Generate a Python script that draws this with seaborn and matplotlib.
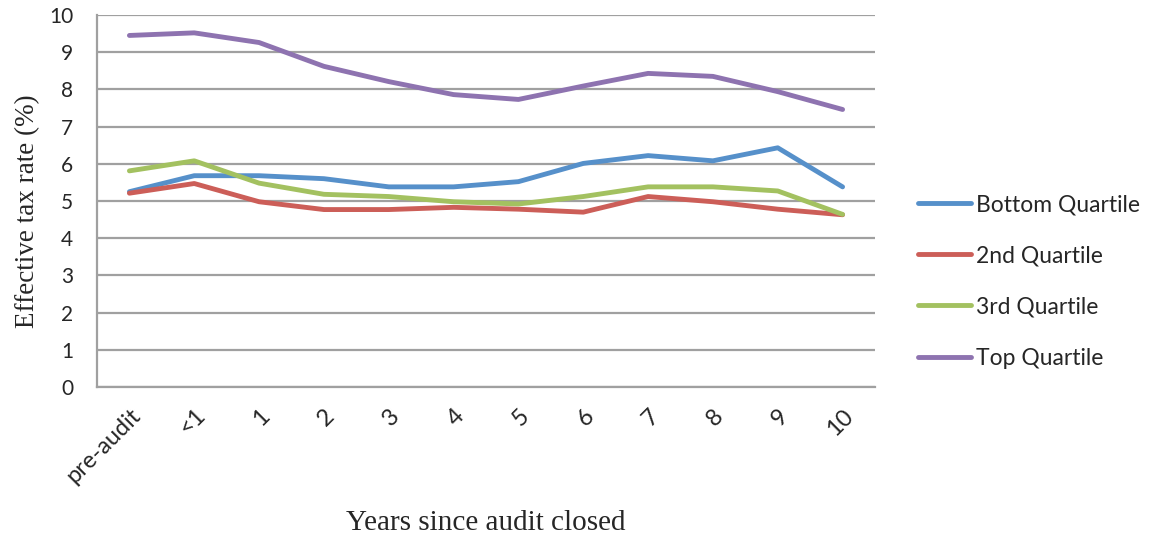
import matplotlib
matplotlib.use("Agg")
import matplotlib.pyplot as plt
import seaborn as sns
import pandas as pd

# Effective tax rate (%) by quartile, by years since the audit closed
years = ["pre-audit", "<1", "1", "2", "3", "4", "5", "6", "7", "8", "9", "10"]
bottom_quartile = [5.25, 5.68, 5.68, 5.60, 5.38, 5.38, 5.52, 6.01, 6.22, 6.08, 6.43, 5.38]
second_quartile = [5.21, 5.47, 4.98, 4.77, 4.77, 4.83, 4.78, 4.70, 5.12, 4.98, 4.78, 4.63]
third_quartile = [5.81, 6.08, 5.48, 5.18, 5.12, 4.98, 4.92, 5.12, 5.38, 5.38, 5.27, 4.64]
top_quartile = [9.45, 9.52, 9.26, 8.62, 8.21, 7.86, 7.73, 8.09, 8.43, 8.35, 7.94, 7.46]

series_names = ["Bottom Quartile", "2nd Quartile", "3rd Quartile", "Top Quartile"]
series_values = [bottom_quartile, second_quartile, third_quartile, top_quartile]
series_colors = ["#5690CA", "#CC5E58", "#A3C160", "#8E73B0"]

rows = []
for name, vals in zip(series_names, series_values):
    for i, (yr, v) in enumerate(zip(years, vals)):
        rows.append({"pos": i, "year": yr, "rate": v, "series": name})
df = pd.DataFrame(rows)

sns.set_style("white")
sans = ["Lato", "DejaVu Sans"]
serif = ["Liberation Serif", "DejaVu Serif"]

W, H = 1150, 539
fig = plt.figure(figsize=(W / 100, H / 100), dpi=100)
ax = fig.add_axes([97 / W, 1 - 387 / H, (875 - 97) / W, (387 - 15) / H])

line_w = 3.5
sns.lineplot(data=df, x="pos", y="rate", hue="series", hue_order=series_names,
             palette=series_colors, linewidth=line_w, ax=ax, legend=False,
             solid_capstyle="round", solid_joinstyle="round", zorder=3)

grid_color = "#A0A0A0"
ax.set_xlim(-0.5, len(years) - 0.5)
ax.set_ylim(0, 10)
ax.set_yticks(range(0, 11))
ax.yaxis.grid(True, color=grid_color, linewidth=1.6)
ax.set_axisbelow(True)
for side in ["top", "right"]:
    ax.spines[side].set_visible(False)
for side in ["left", "bottom"]:
    ax.spines[side].set_color(grid_color)
    ax.spines[side].set_linewidth(1.6)

ax.set_xticks(range(len(years)))
ax.set_xticklabels(years, rotation=45, ha="right", rotation_mode="anchor",
                   family=sans, fontsize=17)
ax.tick_params(axis="x", length=0, pad=13)
ax.tick_params(axis="y", length=5, width=1.6, color=grid_color, pad=12,
               labelsize=15)
for lbl in ax.get_yticklabels():
    lbl.set_family(sans)

ax.set_xlabel("")
ax.set_ylabel("")
fig.text(486 / W, 1 - 523 / H, "Years since audit closed", family=serif,
         fontsize=21, ha="center", va="center")
fig.text(28 / W, 1 - 211 / H, "Effective tax rate (%)", family=serif,
         fontsize=19.5, ha="center", va="center", rotation=90)

handles = [plt.Line2D([0], [0], color=c, linewidth=line_w, solid_capstyle="round")
           for c in series_colors]
fig.legend(handles, series_names, loc="upper left",
           bbox_to_anchor=(918 / W, 1 - 194 / H), frameon=False,
           borderpad=0, borderaxespad=0,
           prop={"family": sans, "size": 16.5}, handlelength=2.3,
           handletextpad=0.25, labelspacing=1.32)

fig.savefig("out.png", dpi=100)
